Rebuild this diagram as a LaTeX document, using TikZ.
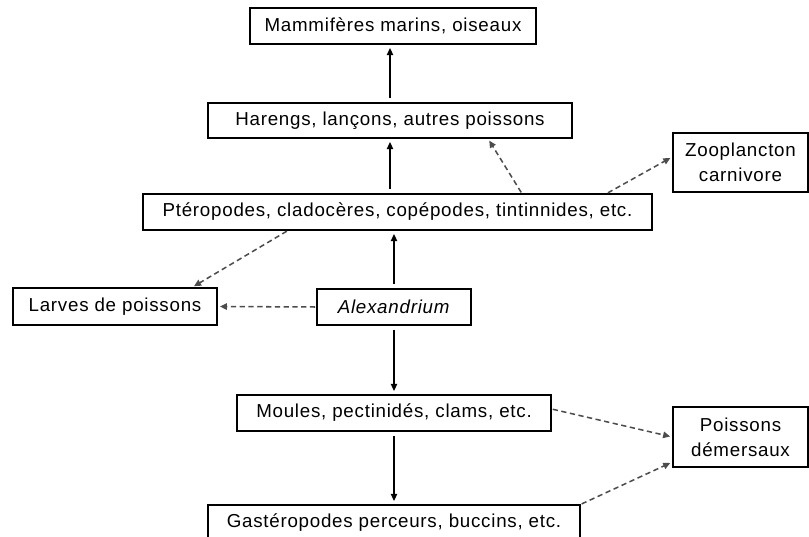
\documentclass[tikz,border=0pt]{standalone}
\usepackage{fontspec}
\setmainfont{Liberation Sans}[LetterSpace=4]
\usepackage{tikz}
\usetikzlibrary{arrows.meta,shadows}

\begin{document}
\begin{tikzpicture}[x=0.03cm, y=-0.03cm, >={Triangle[length=6pt,width=5.5pt]},
        every node/.style={font=\fontsize{16}{21}\selectfont}]
        \tikzstyle{boxStyle} = [rectangle,draw=black,line width=1pt,fill=white,
                                drop shadow={shadow xshift=0.8pt,shadow yshift=-0.8pt,opacity=0.45},
                                inner sep=0pt,align=center,minimum height=1.08cm]
        \tikzstyle{solidEdge} = [draw=black, line width=1.1pt, ->,
                                 shorten <=4pt, shorten >=3pt]
        \tikzstyle{dashEdge} = [draw=black!70, line width=1.3pt, ->,
                                dash pattern=on 4.5pt off 3pt,
                                shorten <=1pt, shorten >=2pt]
        \useasboundingbox (0,0) rectangle (809,537);
        \node[boxStyle, minimum width=8.58cm] (mam) at (393,26) {Mammifères marins, oiseaux};
        \node[boxStyle, minimum width=10.92cm, minimum height=1.05cm] (har) at (390,120.5) {Harengs, lançons, autres poissons};
        \node[boxStyle, minimum width=15.27cm] (pte) at (397.5,212) {Ptéropodes, cladocères, copépodes, tintinnides, etc.};
        \node[boxStyle, minimum width=4.05cm, minimum height=1.77cm] (zoo) at (740.5,162.5) {Zooplancton\\carnivore};
        \node[boxStyle, minimum width=6.12cm, minimum height=1.11cm] (lar) at (115,306.5) {Larves de poissons};
        \node[boxStyle, minimum width=4.62cm] (ale) at (394,307) {\textit{Alexandrium}};
        \node[boxStyle, minimum width=9.42cm] (mou) at (394,413) {Moules, pectinidés, clams, etc.};
        \node[boxStyle, minimum width=4.05cm, minimum height=1.8cm] (poi) at (740.5,437) {Poissons\\démersaux};
        \node[boxStyle, minimum width=11.16cm] (gas) at (394,523) {Gastéropodes perceurs, buccins, etc.};
        \foreach \from/\to in {ale/ale |- pte.south, har |- pte.north/har,
                               har/har |- mam.south, ale/ale |- mou.north,
                               mou/mou |- gas.north}
            \draw[solidEdge] (\from) -- (\to);
        % dashed links
        \draw[dashEdge] ([xshift=-3.29cm]pte.south) -- ([xshift=2.31cm]lar.north);
        \draw[dashEdge] (ale.west) -- (lar.east);
        \draw[dashEdge] ([xshift=3.73cm]pte.north) -- ([xshift=2.94cm]har.south);
        \draw[dashEdge] ([xshift=6.28cm]pte.north) -- ([yshift=0.17cm]zoo.west);
        \draw[dashEdge] ([yshift=0.12cm]mou.east) -- (poi.west);
        \draw[dashEdge] (gas.north east) -- ([yshift=-0.75cm]poi.west);
\end{tikzpicture}
\end{document}
